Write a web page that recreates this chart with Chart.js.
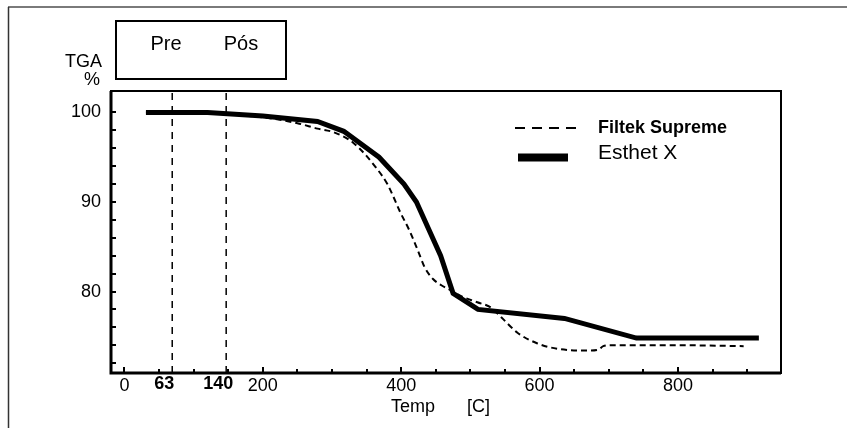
<!DOCTYPE html>
<html>
<head>
<meta charset="utf-8">
<script src="https://cdn.jsdelivr.net/npm/chart.js@4.4.1/dist/chart.umd.min.js"></script>
<style>
  html, body { margin: 0; padding: 0; background: #fff; }
  canvas { display: block; }
</style>
</head>
<body>
<canvas id="c" width="847" height="428"></canvas>
<script>
// TGA curves, temperature in C, mass in %
const esthetTemp = [31, 120, 200, 279, 317, 368, 404, 422, 457, 475, 511, 636, 740, 917];
const esthetMass = [100, 100, 99.6, 99.0, 97.9, 95.0, 92.0, 90.0, 84.0, 79.8, 78.0, 77.0, 74.8, 74.8];

const filtekTemp = [31, 110, 150, 206, 250, 279, 302, 331, 363, 380, 399, 412, 424, 434, 446, 458, 470, 486, 510, 530, 545, 568, 597, 626, 670, 685, 692, 705, 800, 895];
const filtekMass = [100, 100, 99.8, 99.4, 98.8, 98.2, 97.8, 96.6, 93.9, 92.0, 88.8, 86.8, 84.6, 82.7, 81.4, 80.7, 80.2, 79.5, 78.8, 78.2, 77.1, 75.4, 74.2, 73.6, 73.4, 73.5, 73.9, 74.0, 74.0, 73.9];

const seriesNames = ["Filtek Supreme", "Esthet X"];
const markerTemps = [69, 147];
const markerLabels = ["63", "140"];
const phaseLabels = ["Pre", "Pós"];

const xTicks = [0, 50, 100, 150, 200, 250, 300, 350, 400, 450, 500, 550, 600, 650, 700, 750, 800, 850, 900];
const xLabelled = [0, 200, 400, 600, 800];
const yTicks = [72, 74, 76, 78, 80, 82, 84, 86, 88, 90, 92, 94, 96, 98, 100];
const yLabelled = [80, 90, 100];

const xMin = -19.5, xMax = 949;
const yMin = 70.9, yMax = 102.4;

const pts = (xs, ys) => xs.map((x, i) => ({ x, y: ys[i] }));

const datasets = [
  {
    label: seriesNames[0],
    data: pts(filtekTemp, filtekMass),
    borderColor: "#000",
    borderWidth: 2,
    borderDash: [6, 4],
    cubicInterpolationMode: "monotone",
    pointRadius: 0
  },
  {
    label: seriesNames[1],
    data: pts(esthetTemp, esthetMass),
    borderColor: "#000",
    borderWidth: 5,
    tension: 0,
    pointRadius: 0
  }
];
markerTemps.forEach(t => {
  datasets.push({
    label: "marker",
    data: [{ x: t, y: yMin }, { x: t, y: yMax }],
    borderColor: "#000",
    borderWidth: 1.5,
    borderDash: [7, 6],
    pointRadius: 0
  });
});

const font = "'Liberation Sans', Arial, Helvetica, sans-serif";

const decor = {
  id: "decor",
  beforeDraw(chart) {
    const ctx = chart.ctx;
    ctx.save();
    // outer frame
    ctx.strokeStyle = "#7a7a7a";
    ctx.lineWidth = 2;
    ctx.beginPath();
    ctx.moveTo(8, 7); ctx.lineTo(847, 7);
    ctx.stroke();
    ctx.strokeStyle = "#333";
    ctx.lineWidth = 1.5;
    ctx.beginPath();
    ctx.moveTo(8.5, 7); ctx.lineTo(8.5, 428);
    ctx.stroke();
    ctx.restore();
  },
  afterDraw(chart) {
    const ctx = chart.ctx;
    const a = chart.chartArea;
    const xs = chart.scales.x, ys = chart.scales.y;
    ctx.save();
    ctx.strokeStyle = "#000";
    ctx.fillStyle = "#000";

    // plot border
    ctx.lineWidth = 2;
    ctx.strokeRect(a.left, a.top, a.right - a.left, a.bottom - a.top);
    ctx.lineWidth = 3;
    ctx.beginPath();
    ctx.moveTo(a.left, a.top); ctx.lineTo(a.left, a.bottom); ctx.lineTo(a.right, a.bottom);
    ctx.stroke();

    // inward ticks
    ctx.lineWidth = 2;
    xTicks.forEach(v => {
      const px = Math.round(xs.getPixelForValue(v));
      const len = xLabelled.includes(v) ? 6 : 4;
      ctx.beginPath(); ctx.moveTo(px, a.bottom); ctx.lineTo(px, a.bottom - len); ctx.stroke();
    });
    yTicks.forEach(v => {
      const py = Math.round(ys.getPixelForValue(v));
      ctx.beginPath(); ctx.moveTo(a.left, py); ctx.lineTo(a.left + 5, py); ctx.stroke();
    });

    // marker temperature labels
    ctx.font = "bold 18px " + font;
    ctx.textAlign = "center";
    ctx.textBaseline = "middle";
    markerTemps.forEach((t, i) => {
      ctx.fillText(markerLabels[i], xs.getPixelForValue(t) - 8, a.bottom + 11);
    });

    // axis titles
    ctx.font = "18px " + font;
    ctx.textAlign = "left";
    ctx.fillText("Temp", 391, 407);
    ctx.fillText("[C]", 467, 407);
    ctx.textAlign = "right";
    ctx.fillText("TGA", 102, 62);
    ctx.fillText("%", 100, 80);

    // Pre / Pós box
    ctx.lineWidth = 2;
    ctx.strokeRect(116, 21, 170, 58);
    ctx.font = "20px " + font;
    ctx.textAlign = "center";
    ctx.fillText(phaseLabels[0], 166, 44);
    ctx.fillText(phaseLabels[1], 241, 44);

    // legend
    const d0 = chart.data.datasets[0], d1 = chart.data.datasets[1];
    ctx.lineWidth = 2;
    ctx.setLineDash([10, 7]);
    ctx.beginPath(); ctx.moveTo(515, 128); ctx.lineTo(580, 128); ctx.stroke();
    ctx.setLineDash([]);
    ctx.lineWidth = 8;
    ctx.beginPath(); ctx.moveTo(518, 157.5); ctx.lineTo(568, 157.5); ctx.stroke();
    ctx.textAlign = "left";
    ctx.font = "bold 18px " + font;
    ctx.fillText(d0.label, 598, 128);
    ctx.font = "21px " + font;
    ctx.fillText(d1.label, 598, 153);
    ctx.restore();
  }
};

new Chart(document.getElementById("c"), {
  type: "line",
  data: { datasets },
  options: {
    responsive: false,
    animation: false,
    layout: { padding: { left: 0, right: 66, top: 91, bottom: 0 } },
    plugins: { legend: { display: false }, tooltip: { enabled: false } },
    scales: {
      x: {
        type: "linear",
        min: xMin,
        max: xMax,
        afterFit: s => { s.height = 55; },
        afterBuildTicks: s => { s.ticks = xTicks.map(v => ({ value: v })); },
        grid: { display: false, drawTicks: false },
        border: { display: false },
        ticks: {
          padding: 2,
          color: "#000",
          font: { size: 18, family: font },
          maxRotation: 0,
          autoSkip: false,
          callback: v => (xLabelled.includes(v) ? String(v) : "")
        }
      },
      y: {
        type: "linear",
        min: yMin,
        max: yMax,
        afterFit: s => { s.width = 111; },
        afterBuildTicks: s => { s.ticks = yTicks.map(v => ({ value: v })); },
        grid: { display: false, drawTicks: false },
        border: { display: false },
        ticks: {
          padding: 10,
          color: "#000",
          font: { size: 18, family: font },
          autoSkip: false,
          callback: v => (yLabelled.includes(v) ? String(v) : "")
        }
      }
    }
  },
  plugins: [decor]
});
</script>
</body>
</html>
